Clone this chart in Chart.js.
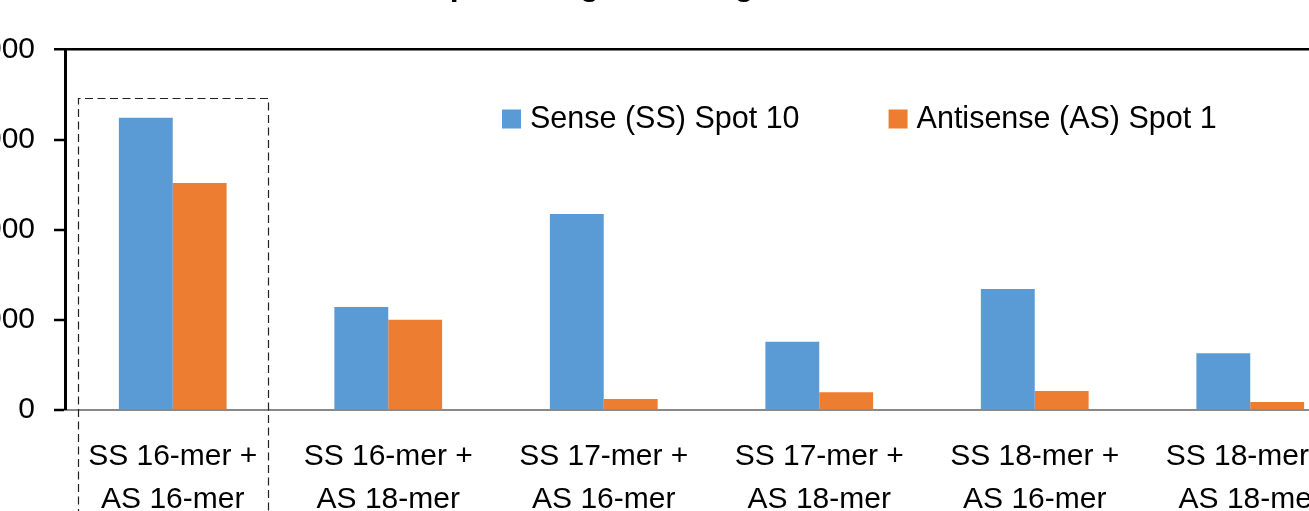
<!DOCTYPE html>
<html>
<head>
<meta charset="utf-8">
<script src="https://cdn.jsdelivr.net/npm/chart.js@4"></script>
<style>
  html, body { margin: 0; padding: 0; background: #ffffff; overflow: hidden; width: 1309px; height: 511px; }
  #wrap { position: absolute; left: -60px; top: -60px; width: 1440px; height: 600px; }
  canvas { display: block; }
</style>
</head>
<body>
<div id="wrap"><canvas id="chart" width="1440" height="600"></canvas></div>
<script>
// Duplex combinations on the category axis (two-line labels)
const categories = [
  ["SS 16-mer +", "AS 16-mer"],
  ["SS 16-mer +", "AS 18-mer"],
  ["SS 17-mer +", "AS 16-mer"],
  ["SS 17-mer +", "AS 18-mer"],
  ["SS 18-mer +", "AS 16-mer"],
  ["SS 18-mer +", "AS 18-mer"]
];
const senseLabel = "Sense (SS) Spot 10";
const antisenseLabel = "Antisense (AS) Spot 1";
const senseValues = [3243, 1140, 2171, 754, 1340, 625];
const antisenseValues = [2516, 996, 117, 191, 206, 83];
const yTickValues = [0, 1000, 2000, 3000, 4000];
const yTickLabels = ["0", "1000", "2000", "3000", "4000"];
const chartTitle = "Duplex Length and Signal Level";

// Highlighted group (dashed frame) and the value its frame reaches up to
const highlightIndex = 0;
const highlightTop = 3465;

const FONT = "'Liberation Sans', Arial, sans-serif";
Chart.defaults.font.family = FONT;
Chart.defaults.color = "#000000";

// Legend drawn inside the plot area, above the bars
const insideLegend = {
  id: "insideLegend",
  afterDraw(chart) {
    const { ctx, chartArea } = chart;
    ctx.save();
    ctx.font = "30.5px " + FONT;
    ctx.textBaseline = "middle";
    ctx.textAlign = "left";
    let x = chartArea.left + 437;
    const y = chartArea.top + 69.5;
    chart.data.datasets.forEach(ds => {
      ctx.fillStyle = ds.backgroundColor;
      ctx.fillRect(x, y - 9.5, 19, 19);
      x += 19 + 9;
      ctx.fillStyle = "#000000";
      ctx.fillText(ds.label, x, y + 1);
      x += ctx.measureText(ds.label).width + 89;
    });
    ctx.restore();
  }
};

// Dashed frame around one category group, reaching down through its label
const groupFrame = {
  id: "groupFrame",
  afterDraw(chart) {
    const xs = chart.scales.x, ys = chart.scales.y;
    const c = xs.getPixelForValue(highlightIndex);
    const w = xs.getPixelForValue(highlightIndex + 1) - c;
    const left = Math.round(c - 0.44 * w) + 0.5;
    const right = Math.round(c + 0.442 * w) + 0.5;
    const top = Math.round(ys.getPixelForValue(highlightTop)) + 0.5;
    const bottom = chart.height + 2;
    const ctx = chart.ctx;
    ctx.save();
    ctx.strokeStyle = "#222222";
    ctx.lineWidth = 1.2;
    ctx.setLineDash([8, 4.5]);
    ctx.beginPath();
    ctx.moveTo(left, bottom);
    ctx.lineTo(left, top);
    ctx.lineTo(right, top);
    ctx.lineTo(right, bottom);
    ctx.stroke();
    ctx.restore();
  }
};

new Chart(document.getElementById("chart"), {
  type: "bar",
  data: {
    labels: categories,
    datasets: [
      { label: senseLabel, data: senseValues, backgroundColor: "#5B9BD5", borderWidth: 0 },
      { label: antisenseLabel, data: antisenseValues, backgroundColor: "#ED7D31", borderWidth: 0 }
    ]
  },
  options: {
    responsive: false,
    animation: false,
    layout: { padding: { left: 0, right: 22, top: 0, bottom: 0 } },
    datasets: { bar: { categoryPercentage: 0.5, barPercentage: 1.0 } },
    plugins: {
      legend: { display: false },
      tooltip: { enabled: false },
      title: {
        display: true,
        text: chartTitle,
        color: "#000000",
        font: { size: 32, weight: "bold", family: FONT, lineHeight: 1.2 },
        padding: { top: 26.8, bottom: 44.3 }
      }
    },
    scales: {
      x: {
        offset: true,
        grid: { display: false, drawTicks: false },
        border: { display: true, color: "#898989", width: 2 },
        ticks: {
          font: { size: 30, family: FONT, lineHeight: 1.433 },
          color: "#000000",
          padding: 25.5,
          maxRotation: 0,
          autoSkip: false
        },
        afterFit(scale) { scale.height = 130.5; }
      },
      y: {
        min: 0,
        max: 4000,
        afterBuildTicks(scale) { scale.ticks = yTickValues.map(v => ({ value: v })); },
        grid: {
          drawTicks: true,
          tickLength: 11,
          tickColor: "#000000",
          tickWidth: 2.5,
          color: ctx => (ctx.tick && ctx.tick.value === 4000 ? "#000000" : "rgba(0,0,0,0)"),
          lineWidth: ctx => (ctx.tick && ctx.tick.value === 4000 ? 2.5 : 0)
        },
        border: { display: true, color: "#000000", width: 3 },
        ticks: {
          font: { size: 30, family: FONT },
          color: "#000000",
          padding: 19,
          callback: (v, i) => yTickLabels[i]
        },
        afterFit(scale) { scale.width = 125; }
      }
    }
  },
  plugins: [insideLegend, groupFrame]
});
</script>
</body>
</html>
